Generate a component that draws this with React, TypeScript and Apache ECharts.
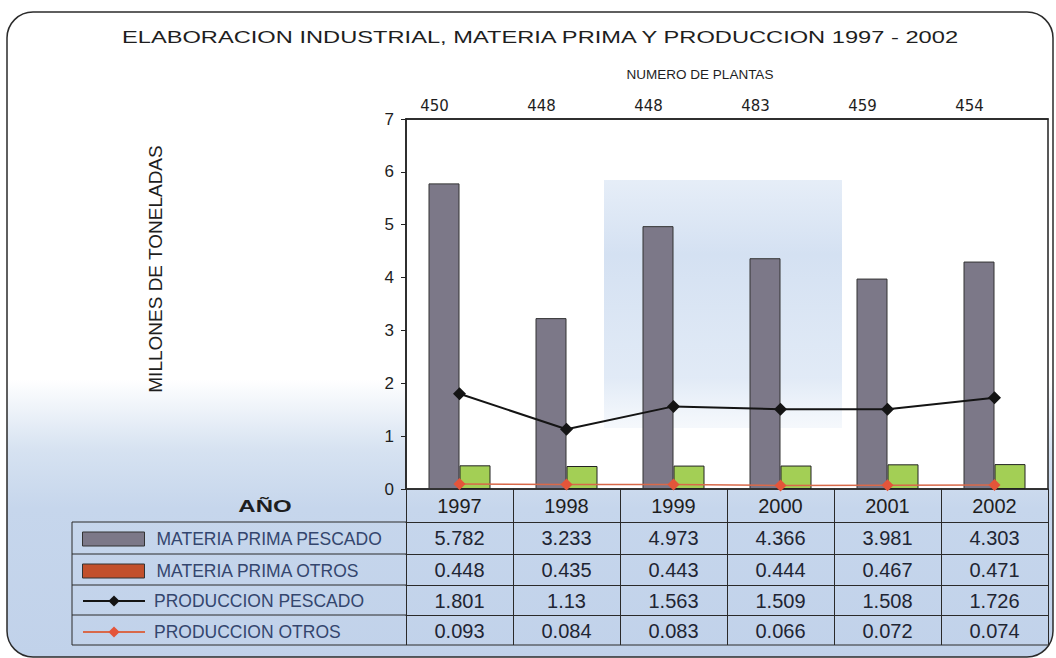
import React, { useEffect, useRef } from "react";
import * as echarts from "echarts";

const years = ["1997", "1998", "1999", "2000", "2001", "2002"];
const plantas = [450, 448, 448, 483, 459, 454];
const materiaPescado = [5.782, 3.233, 4.973, 4.366, 3.981, 4.303];
const materiaOtros = [0.448, 0.435, 0.443, 0.444, 0.467, 0.471];
const prodPescado = [1.801, 1.13, 1.563, 1.509, 1.508, 1.726];
const prodOtros = [0.093, 0.084, 0.083, 0.066, 0.072, 0.074];

const seriesNames = [
  "MATERIA PRIMA PESCADO",
  "MATERIA PRIMA OTROS",
  "PRODUCCION PESCADO",
  "PRODUCCION OTROS",
];
const titleText = "ELABORACION INDUSTRIAL, MATERIA PRIMA Y PRODUCCION 1997 - 2002";
const topAxisName = "NUMERO DE PLANTAS";
const yAxisName = "MILLONES DE TONELADAS";
const yearHeader = "AÑO";

const GL = 406;
const GT = 119;
const GR = 1048;
const GB = 489;
const TL = 72;
const FONT = "Liberation Sans, Arial, sans-serif";

const rowOffsets = [0, 33, 65, 96, 126];
const rowHeights = [33, 32, 31, 30, 30];
const tableBottom = GB + 156;

export default function App() {
  const ref = useRef<HTMLDivElement>(null);
  useEffect(() => {
    if (!ref.current) return;
    const chart = echarts.init(ref.current, undefined, { renderer: "svg" });
    const tableRows = [years, materiaPescado.map(String), materiaOtros.map(String), prodPescado.map(String), prodOtros.map(String)];
    const tableAxes = tableRows.map((row, i) => ({
      type: "category",
      gridIndex: 0,
      position: "bottom",
      offset: rowOffsets[i],
      data: row,
      boundaryGap: true,
      axisLine: { show: true, lineStyle: { color: "#2a2a2a", width: i === 0 ? 1.5 : 1 } },
      axisTick: { show: true, interval: 0, length: rowHeights[i], lineStyle: { color: "#2a2a2a", width: 1 } },
      axisLabel: {
        interval: 0,
        margin: i === 0 ? 7 : 6,
        fontSize: 20,
        fontFamily: FONT,
        color: i === 0 ? "#1e1e1e" : "#1f2533",
      },
      splitLine: { show: false },
    }));
    const hLines = [1, 2, 3, 4].map((i) => ({
      type: "line",
      shape: { x1: TL, y1: GB + rowOffsets[i], x2: GL, y2: GB + rowOffsets[i] },
      style: { stroke: "#2a2a2a", lineWidth: 1 },
      z: 5,
    }));
    const option: any = {
      animation: false,
      backgroundColor: "#ffffff",
      grid: {
        left: GL,
        top: GT,
        right: 1056 - GR,
        bottom: 658 - GB,
        show: true,
        backgroundColor: "#ffffff",
        borderColor: "#222",
        borderWidth: 1.5,
      },
      xAxis: [
        tableAxes[0],
        {
          type: "category",
          gridIndex: 0,
          position: "top",
          data: plantas.map(String),
          axisLine: { show: true, lineStyle: { color: "#222", width: 1.5 } },
          axisTick: { show: false },
          axisLabel: { interval: 0, margin: 6, fontSize: 15, fontFamily: "DejaVu Sans, sans-serif", color: "#1e1e1e", padding: [0, 50, 0, 0] },
          name: topAxisName,
          nameLocation: "middle",
          nameGap: 38,
          nameTextStyle: { fontSize: 13.5, fontFamily: FONT, color: "#1e1e1e", padding: [0, 54, 0, 0] },
        },
        ...tableAxes.slice(1),
      ],
      yAxis: {
        type: "value",
        min: 0,
        max: 7,
        interval: 1,
        axisLine: { show: true, lineStyle: { color: "#222", width: 1.5 } },
        axisTick: { show: true, length: 5, lineStyle: { color: "#222" } },
        axisLabel: { fontSize: 17, fontFamily: FONT, color: "#1e1e1e", margin: 12 },
        splitLine: { show: false },
      },
      legend: [
        {
          data: [
            { name: seriesNames[0], itemStyle: { color: "#7c7888", borderColor: "#333", borderWidth: 1 } },
            { name: seriesNames[1], itemStyle: { color: "#c2502c", borderColor: "#333", borderWidth: 1 } },
          ],
          orient: "vertical",
          left: 82,
          top: 530,
          padding: 0,
          itemWidth: 62,
          itemHeight: 14,
          itemGap: 14,
          icon: "rect",
          selectedMode: false,
          textStyle: { fontSize: 17.5, fontFamily: FONT, color: "#34466e", padding: [0, 0, 0, 7] },
        },
        {
          data: [seriesNames[2], seriesNames[3]],
          orient: "vertical",
          left: 82,
          top: 592,
          padding: 0,
          itemWidth: 62,
          itemHeight: 14,
          itemGap: 13,
          selectedMode: false,
          textStyle: { fontSize: 17.5, fontFamily: FONT, color: "#34466e", padding: [0, 0, 0, 4] },
        },
      ],
      series: [
        {
          name: seriesNames[0],
          type: "bar",
          data: materiaPescado,
          barWidth: 31,
          barGap: "0%",
          itemStyle: { color: "#7c7888", borderColor: "#333", borderWidth: 1 },
        },
        {
          name: seriesNames[1],
          type: "bar",
          data: materiaOtros,
          barWidth: 31,
          itemStyle: { color: "#a3cf55", borderColor: "#222", borderWidth: 1 },
        },
        {
          name: seriesNames[2],
          type: "line",
          data: prodPescado,
          symbol: "diamond",
          symbolSize: 13,
          itemStyle: { color: "#141414" },
          lineStyle: { color: "#141414", width: 2 },
          z: 4,
        },
        {
          name: seriesNames[3],
          type: "line",
          data: prodOtros,
          symbol: "diamond",
          symbolSize: 12,
          itemStyle: { color: "#e4553a" },
          lineStyle: { color: "#d8694a", width: 1.5 },
          z: 5,
        },
      ],
      graphic: [
        {
          type: "rect",
          z: -10,
          shape: { x: 7, y: 12, width: 1046, height: 645, r: 26 },
          style: {
            fill: new echarts.graphic.LinearGradient(0, 0, 0, 1, [
              { offset: 0, color: "#ffffff" },
              { offset: 0.57, color: "#ffffff" },
              { offset: 0.68, color: "#d6e2f1" },
              { offset: 0.77, color: "#c6d6ec" },
              { offset: 1, color: "#c1d2ea" },
            ]),
            stroke: "#2b2b2b",
            lineWidth: 1.5,
          },
        },
        {
          type: "rect",
          z: 1,
          shape: { x: 604, y: 180, width: 238, height: 248 },
          style: {
            fill: new echarts.graphic.LinearGradient(0, 0, 0, 1, [
              { offset: 0, color: "rgba(170,196,230,0.30)" },
              { offset: 0.3, color: "rgba(160,188,226,0.45)" },
              { offset: 0.8, color: "rgba(170,196,230,0.35)" },
              { offset: 1, color: "rgba(190,210,236,0.15)" },
            ]),
          },
        },
        {
          type: "text",
          x: 540,
          y: 37,
          scaleX: 1.48,
          z: 10,
          style: { text: titleText, fontSize: 16, fontFamily: FONT, fill: "#1e1e1e", align: "center", verticalAlign: "middle" },
        },
        {
          type: "text",
          x: 155,
          y: 269,
          rotation: Math.PI / 2,
          z: 10,
          style: { text: yAxisName, fontSize: 19, fontFamily: FONT, fill: "#1e1e1e", align: "center", verticalAlign: "middle" },
        },
        {
          type: "text",
          x: 265,
          y: 507,
          scaleX: 1.5,
          z: 10,
          style: { text: yearHeader, fontSize: 16, fontWeight: "bold", fontFamily: FONT, fill: "#1e1e1e", align: "center", verticalAlign: "middle" },
        },
        ...hLines,
        {
          type: "line",
          z: 5,
          shape: { x1: TL, y1: tableBottom, x2: GR, y2: tableBottom },
          style: { stroke: "#2a2a2a", lineWidth: 1 },
        },
        {
          type: "line",
          z: 5,
          shape: { x1: TL, y1: GB + rowOffsets[1], x2: TL, y2: tableBottom },
          style: { stroke: "#2a2a2a", lineWidth: 1 },
        },
      ],
    };
    chart.setOption(option);
    return () => chart.dispose();
  }, []);
  return <div ref={ref} style={{ position: "absolute", left: 0, top: 0, width: 1056, height: 658 }} />;
}
